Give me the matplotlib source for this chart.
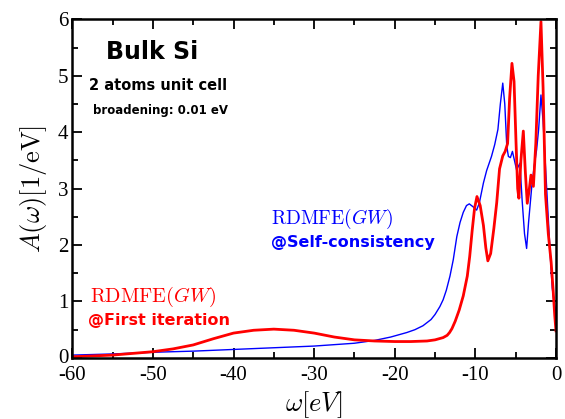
import numpy as np
import matplotlib
matplotlib.use("Agg")
import matplotlib.pyplot as plt
from matplotlib.ticker import MultipleLocator
from matplotlib.transforms import ScaledTranslation

plt.rcParams['mathtext.fontset'] = 'cm'
plt.rcParams['axes.unicode_minus'] = False

# --- spectral function ---
# first iteration (red)
w_first = [-60, -55, -50, -47.5, -45, -42.5, -40, -37.5, -35, -32.5, -30, -27.5, -25,
           -22.5, -20, -18, -16, -15, -14, -13.5, -13.2, -12.9, -12.5, -12, -11.5, -11,
           -10.7, -10.4, -10.1, -9.8, -9.4, -9.0, -8.7, -8.45, -8.1, -7.7, -7.35, -7.0,
           -6.6, -6.3, -6.0, -5.75, -5.46, -5.2, -4.95, -4.75, -4.6, -4.35, -4.05, -3.8,
           -3.56, -3.3, -3.1, -2.8, -2.5, -2.2, -1.86, -1.6, -1.3, -0.95, -0.6, -0.35,
           -0.15, 0]
A_first = [0.02, 0.05, 0.11, 0.16, 0.23, 0.34, 0.44, 0.49, 0.51, 0.49, 0.44, 0.37, 0.32,
           0.30, 0.29, 0.29, 0.30, 0.32, 0.36, 0.40, 0.45, 0.52, 0.65, 0.85, 1.10, 1.45,
           1.8, 2.25, 2.65, 2.86, 2.7, 2.35, 1.95, 1.72, 1.85, 2.3, 2.75, 3.35,
           3.58, 3.66, 3.8, 4.6, 5.22, 4.9, 3.8, 3.0, 2.83, 3.5, 4.02, 3.3,
           2.74, 3.0, 3.24, 3.04, 3.8, 5.0, 5.96, 4.8, 2.9, 2.2, 1.7, 1.2,
           0.75, 0.48]

# self-consistency (blue)
w_sc = [-60, -55, -50, -45, -40, -35, -30, -27, -25, -22.5, -20.5, -18.5, -17.5, -16.5,
        -15.5, -15, -14.4, -14, -13.6, -13.15, -12.74, -12.3, -11.9, -11.5, -11.1, -10.75,
        -10.3, -9.84, -9.5, -9.0, -8.6, -8.0, -7.6, -7.2, -6.9, -6.6, -6.35, -6.1, -5.9,
        -5.65, -5.4, -5.15, -4.88, -4.65, -4.47, -4.2, -3.9, -3.64, -3.4, -3.0, -2.7,
        -2.4, -2.15, -1.86, -1.6, -1.3, -1.0, -0.7, -0.46, -0.2, 0]
A_sc = [0.05, 0.07, 0.10, 0.12, 0.15, 0.18, 0.21, 0.24, 0.26, 0.31, 0.37, 0.45, 0.50, 0.57,
        0.68, 0.77, 0.91, 1.03, 1.2, 1.45, 1.74, 2.15, 2.40, 2.58, 2.70, 2.73,
        2.68, 2.62, 2.75, 3.1, 3.32, 3.57, 3.78, 4.05, 4.5, 4.87, 4.5, 3.75, 3.57,
        3.55, 3.66, 3.5, 3.33, 3.4, 3.45, 2.8, 2.2, 1.94, 2.4, 3.04, 3.4,
        3.69, 4.05, 4.66, 4.2, 3.4, 2.6, 1.8, 1.24, 0.94, 0.8]

x_ticks = [-60, -50, -40, -30, -20, -10, 0]
y_ticks = [0, 1, 2, 3, 4, 5, 6]

fig = plt.figure(figsize=(5.65, 4.19), dpi=100)
ax = fig.add_axes([0.128, 0.1458, 0.856, 0.808])

ax.plot(w_sc, A_sc, color='#0000ff', lw=1.0)
ax.plot(w_first, A_first, color='#ff0000', lw=2.0)

ax.set_xlim(-60, 0)
ax.set_ylim(0, 6)
ax.set_xticks(x_ticks)
ax.set_yticks(y_ticks)
ax.set_xticklabels([str(t) for t in x_ticks], family='Liberation Serif', fontsize=15)
ax.set_yticklabels([str(t) for t in y_ticks], family='Liberation Serif', fontsize=15)
ax.xaxis.set_minor_locator(MultipleLocator(5))
ax.yaxis.set_minor_locator(MultipleLocator(0.5))
ax.tick_params(which='both', direction='in', top=True, right=True, width=1.3)
ax.tick_params(which='major', length=7)
ax.tick_params(axis='x', which='major', pad=6)
ax.tick_params(axis='y', which='major', pad=3)
ax.tick_params(which='minor', length=4)
for s in ax.spines.values():
    s.set_linewidth(1.8)

# nudge the y "0" a touch up so it clears the "-60"
lab0 = ax.get_yticklabels()[0]
lab0.set_transform(lab0.get_transform() + ScaledTranslation(0, 1.5 / 72, fig.dpi_scale_trans))

ax.set_xlabel(r'$\omega[eV]$', fontsize=19, labelpad=3)
ax.set_ylabel(r'$A(\omega)[1/\mathrm{eV}]$', fontsize=19, labelpad=6)

# annotations
ax.text(0.07, 0.905, 'Bulk Si', transform=ax.transAxes, fontsize=17, weight='bold',
        va='center', ha='left')
ax.text(0.034, 0.805, '2 atoms unit cell', transform=ax.transAxes, fontsize=10.5,
        weight='bold', va='center', ha='left')
ax.text(0.042, 0.732, 'broadening: 0.01 eV', transform=ax.transAxes, fontsize=8.5,
        weight='bold', va='center', ha='left')

ax.text(0.41, 0.41, r'$\mathrm{RDMFE}(GW)$', transform=ax.transAxes, fontsize=14,
        color='#0000ff', va='center', ha='left')
ax.text(0.41, 0.34, '@Self-consistency', transform=ax.transAxes, fontsize=11.5,
        weight='bold', color='#0000ff', va='center', ha='left')
ax.text(0.036, 0.18, r'$\mathrm{RDMFE}(GW)$', transform=ax.transAxes, fontsize=14.5,
        color='#ff0000', va='center', ha='left')
ax.text(0.032, 0.11, '@First iteration', transform=ax.transAxes, fontsize=11.5,
        weight='bold', color='#ff0000', va='center', ha='left')

fig.savefig('out.png', dpi=100)
